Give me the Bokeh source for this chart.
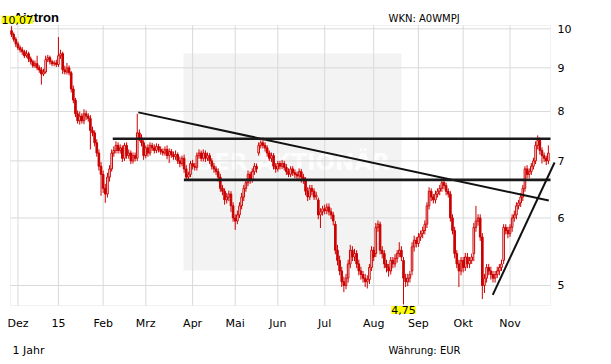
import numpy as np
from bokeh.plotting import figure
from bokeh.models import Range1d, FixedTicker, Label, BoxAnnotation, ColumnDataSource, PrintfTickFormatter
from bokeh.embed import file_html
from bokeh.resources import INLINE

# ---------------- data ----------------
month_pos = [3, 22, 43, 63, 85, 105, 125, 147, 170, 191, 212, 234]
month_labels = ["Dez", "15", "Feb", "Mrz", "Apr", "Mai", "Jun", "Jul", "Aug", "Sep", "Okt", "Nov"]
price_ticks = [5, 6, 7, 8, 9, 10]

open_ = [
    9.95, 9.85, 9.72, 9.60, 9.50, 9.45, 9.40, 9.30, 9.35, 9.22,
    9.15, 9.05, 9.10, 9.00, 8.95, 8.85, 8.90, 9.20, 9.25, 9.15,
    9.10, 9.12, 9.08, 9.30, 9.35, 8.95, 8.90, 9.00, 8.88, 8.50,
    8.25, 7.95, 7.80, 7.90, 7.80, 7.95, 7.90, 7.85, 7.60, 7.55,
    7.35, 7.15, 6.90, 6.75, 6.50, 6.40, 6.70, 6.85, 7.15, 7.20,
    7.30, 7.20, 7.25, 7.05, 7.30, 7.10, 7.15, 7.00, 7.10, 7.05,
    7.55, 7.45, 7.35, 7.10, 7.25, 7.15, 7.30, 7.25, 7.20, 7.28,
    7.22, 7.18, 7.15, 7.22, 7.10, 7.18, 7.12, 7.08, 7.12, 7.00,
    6.95, 7.05, 6.85, 6.70, 6.75, 6.95, 6.90, 6.88, 7.10, 7.15,
    7.05, 7.15, 7.05, 7.10, 7.00, 6.90, 6.85, 6.80, 6.70, 6.50,
    6.45, 6.30, 6.35, 6.40, 6.20, 6.00, 5.95, 6.05, 6.20, 6.35,
    6.50, 6.60, 6.75, 6.65, 6.80, 6.90, 7.15, 7.30, 7.35, 7.30,
    7.25, 7.15, 7.05, 7.10, 6.90, 6.85, 6.95, 6.90, 6.95, 6.88,
    6.80, 6.75, 6.85, 6.78, 6.75, 6.72, 6.80, 6.70, 6.65, 6.45,
    6.35, 6.50, 6.45, 6.35, 6.30, 6.05, 6.10, 6.15, 6.12, 6.18,
    6.10, 6.05, 5.90, 5.50, 5.35, 5.20, 5.05, 5.00, 5.10, 5.30,
    5.50, 5.40, 5.45, 5.30, 5.20, 5.15, 5.10, 5.05, 5.08, 5.25,
    5.50, 5.45, 5.85, 5.90, 5.50, 5.45, 5.30, 5.25, 5.20, 5.35,
    5.30, 5.38, 5.45, 5.50, 5.35, 5.10, 5.05, 5.10, 5.20, 5.55,
    5.65, 5.60, 5.70, 5.75, 5.80, 5.90, 6.20, 6.45, 6.35, 6.30,
    6.40, 6.45, 6.50, 6.60, 6.55, 6.45, 6.40, 6.00, 5.80, 5.45,
    5.30, 5.20, 5.35, 5.25, 5.40, 5.30, 5.35, 5.45, 5.85, 5.95,
    6.00, 5.70, 5.00, 5.10, 5.25, 5.20, 5.15, 5.10, 5.15, 5.20,
    5.25, 5.35, 5.85, 5.80, 5.75, 5.85, 6.00, 6.05, 6.20, 6.25,
    6.35, 6.50, 6.85, 6.75, 6.80, 6.90, 7.00, 7.30, 7.40, 7.20,
    7.10, 7.05, 7.00]

high = [
    10.07, 9.90, 9.78, 9.66, 9.56, 9.52, 9.45, 9.44, 9.40, 9.28,
    9.20, 9.18, 9.30, 9.06, 9.02, 8.98, 9.30, 9.32, 9.30, 9.20,
    9.18, 9.20, 9.78, 9.45, 9.40, 9.05, 9.12, 9.06, 8.92, 8.58,
    8.30, 8.02, 8.00, 7.96, 8.05, 8.02, 7.96, 7.92, 7.68, 7.60,
    7.42, 7.22, 6.98, 6.82, 6.58, 6.78, 6.92, 7.22, 7.28, 7.38,
    7.36, 7.32, 7.30, 7.35, 7.36, 7.22, 7.20, 7.16, 7.16, 7.95,
    7.62, 7.52, 7.40, 7.30, 7.32, 7.36, 7.35, 7.32, 7.34, 7.33,
    7.28, 7.24, 7.28, 7.30, 7.24, 7.23, 7.18, 7.20, 7.16, 7.08,
    7.10, 7.12, 6.92, 6.80, 7.00, 7.02, 6.96, 7.16, 7.22, 7.20,
    7.22, 7.20, 7.16, 7.15, 7.05, 6.96, 6.90, 6.86, 6.76, 6.56,
    6.50, 6.42, 6.46, 6.45, 6.26, 6.06, 6.12, 6.26, 6.42, 6.56,
    6.66, 6.82, 6.80, 6.86, 6.96, 6.95, 7.36, 7.40, 7.46, 7.36,
    7.30, 7.20, 7.16, 7.15, 6.96, 7.00, 7.00, 7.02, 7.00, 6.94,
    6.86, 6.90, 6.90, 6.84, 6.80, 6.86, 6.85, 6.76, 6.70, 6.52,
    6.56, 6.56, 6.50, 6.44, 6.34, 6.16, 6.20, 6.22, 6.24, 6.24,
    6.16, 6.10, 5.95, 5.58, 5.42, 5.26, 5.12, 5.16, 5.36, 5.58,
    5.56, 5.52, 5.50, 5.36, 5.26, 5.20, 5.16, 5.14, 5.30, 5.56,
    5.55, 5.92, 5.96, 5.94, 5.56, 5.50, 5.36, 5.30, 5.40, 5.40,
    5.44, 5.50, 5.62, 5.56, 5.40, 5.16, 5.16, 5.20, 5.62, 5.72,
    5.70, 5.76, 5.80, 5.86, 5.96, 6.26, 6.52, 6.50, 6.40, 6.46,
    6.50, 6.56, 6.68, 6.68, 6.60, 6.50, 6.45, 6.06, 5.86, 5.50,
    5.36, 5.40, 5.40, 5.46, 5.46, 5.40, 5.45, 5.92, 6.20, 6.06,
    6.06, 5.76, 5.16, 5.30, 5.30, 5.26, 5.20, 5.20, 5.26, 5.30,
    5.36, 5.90, 5.90, 5.86, 5.90, 6.06, 6.12, 6.26, 6.30, 6.42,
    6.56, 6.90, 6.92, 6.86, 6.96, 7.06, 7.38, 7.50, 7.46, 7.26,
    7.16, 7.10, 7.30]

low = [
    9.78, 9.66, 9.52, 9.44, 9.38, 9.32, 9.24, 9.25, 9.14, 9.08,
    9.00, 9.00, 8.94, 8.88, 8.60, 8.80, 8.86, 9.14, 9.08, 9.04,
    9.04, 9.02, 9.02, 9.22, 8.85, 8.84, 8.84, 8.82, 8.42, 8.18,
    7.88, 7.74, 7.72, 7.74, 7.73, 7.82, 7.78, 7.22, 7.48, 7.28,
    7.08, 6.82, 6.37, 6.42, 6.25, 6.34, 6.62, 6.80, 7.08, 7.14,
    7.14, 7.14, 6.98, 7.00, 7.04, 7.04, 6.94, 6.95, 6.99, 7.00,
    7.38, 7.28, 7.02, 7.05, 7.08, 7.10, 7.19, 7.14, 7.15, 7.16,
    7.12, 7.10, 7.10, 7.03, 6.96, 7.06, 7.02, 7.02, 6.94, 6.88,
    6.90, 6.78, 6.64, 6.64, 6.70, 6.84, 6.82, 6.82, 7.04, 6.99,
    6.99, 6.98, 7.00, 6.94, 6.84, 6.78, 6.74, 6.62, 6.44, 6.38,
    6.22, 6.24, 6.28, 6.10, 5.94, 5.81, 5.90, 6.00, 6.14, 6.28,
    6.44, 6.54, 6.58, 6.60, 6.74, 6.78, 7.10, 7.24, 7.24, 7.18,
    7.08, 7.00, 6.98, 6.84, 6.78, 6.80, 6.84, 6.85, 6.82, 6.74,
    6.70, 6.70, 6.72, 6.68, 6.66, 6.66, 6.60, 6.58, 6.38, 6.28,
    6.30, 6.38, 6.30, 6.30, 5.98, 5.84, 6.04, 6.06, 6.06, 6.04,
    5.98, 5.88, 5.44, 5.28, 5.14, 4.98, 4.91, 4.95, 5.04, 5.24,
    5.34, 5.34, 5.24, 5.14, 5.08, 5.04, 4.98, 4.96, 5.02, 5.20,
    5.34, 5.40, 5.78, 5.44, 5.38, 5.24, 5.18, 5.12, 5.15, 5.24,
    5.25, 5.32, 5.40, 5.34, 4.75, 4.98, 4.99, 5.04, 5.14, 5.48,
    5.54, 5.55, 5.64, 5.68, 5.74, 5.84, 6.14, 6.28, 6.24, 6.24,
    6.34, 6.38, 6.44, 6.48, 6.38, 6.34, 5.94, 5.74, 5.38, 5.24,
    4.98, 5.14, 5.18, 5.20, 5.24, 5.24, 5.30, 5.34, 5.78, 5.88,
    5.64, 4.82, 4.90, 5.04, 5.14, 5.08, 5.04, 5.04, 5.10, 5.14,
    5.20, 5.30, 5.74, 5.68, 5.70, 5.78, 5.94, 5.98, 6.14, 6.18,
    6.28, 6.44, 6.68, 6.68, 6.74, 6.84, 6.94, 7.22, 7.12, 6.95,
    6.98, 6.92, 6.94]

close = [
    9.85, 9.72, 9.60, 9.50, 9.45, 9.40, 9.30, 9.35, 9.22, 9.15,
    9.05, 9.10, 9.00, 8.95, 8.85, 8.90, 9.20, 9.25, 9.15, 9.10,
    9.12, 9.08, 9.30, 9.35, 8.95, 8.90, 9.00, 8.88, 8.50, 8.25,
    7.95, 7.80, 7.90, 7.80, 7.95, 7.90, 7.85, 7.60, 7.55, 7.35,
    7.15, 6.90, 6.75, 6.50, 6.40, 6.70, 6.85, 7.15, 7.20, 7.30,
    7.20, 7.25, 7.05, 7.30, 7.10, 7.15, 7.00, 7.10, 7.05, 7.55,
    7.45, 7.35, 7.10, 7.25, 7.15, 7.30, 7.25, 7.20, 7.28, 7.22,
    7.18, 7.15, 7.22, 7.10, 7.18, 7.12, 7.08, 7.12, 7.00, 6.95,
    7.05, 6.85, 6.70, 6.75, 6.95, 6.90, 6.88, 7.10, 7.15, 7.05,
    7.15, 7.05, 7.10, 7.00, 6.90, 6.85, 6.80, 6.70, 6.50, 6.45,
    6.30, 6.35, 6.40, 6.20, 6.00, 5.95, 6.05, 6.20, 6.35, 6.50,
    6.60, 6.75, 6.65, 6.80, 6.90, 6.85, 7.30, 7.35, 7.30, 7.25,
    7.15, 7.05, 7.10, 6.90, 6.85, 6.95, 6.90, 6.95, 6.88, 6.80,
    6.75, 6.85, 6.78, 6.75, 6.72, 6.80, 6.70, 6.65, 6.45, 6.35,
    6.50, 6.45, 6.35, 6.38, 6.05, 6.10, 6.15, 6.12, 6.18, 6.10,
    6.05, 5.95, 5.50, 5.35, 5.20, 5.05, 5.00, 5.10, 5.30, 5.50,
    5.40, 5.45, 5.30, 5.20, 5.15, 5.10, 5.05, 5.08, 5.25, 5.50,
    5.40, 5.85, 5.90, 5.50, 5.45, 5.30, 5.25, 5.20, 5.35, 5.30,
    5.38, 5.45, 5.50, 5.40, 5.10, 5.05, 5.10, 5.15, 5.55, 5.65,
    5.60, 5.70, 5.75, 5.80, 5.90, 6.20, 6.45, 6.35, 6.30, 6.40,
    6.45, 6.50, 6.60, 6.55, 6.45, 6.40, 6.00, 5.80, 5.45, 5.30,
    5.20, 5.35, 5.25, 5.40, 5.30, 5.35, 5.40, 5.85, 5.95, 6.00,
    5.70, 5.00, 5.10, 5.25, 5.20, 5.15, 5.10, 5.15, 5.20, 5.25,
    5.30, 5.85, 5.80, 5.75, 5.85, 6.00, 6.05, 6.20, 6.25, 6.35,
    6.50, 6.85, 6.75, 6.80, 6.90, 7.00, 7.30, 7.40, 7.20, 7.10,
    7.05, 7.00, 7.15]

# trend lines drawn on the chart (trading-day index, price)
down_x = [59.5, 252.2]
down_y = [7.98, 6.29]
resist_x = [47.5, 253.0]
resist_y = [7.43, 7.43]
support_x = [80.9, 253.0]
support_y = [6.65, 6.65]
up_x = [225.9, 254.9]
up_y = [4.875, 6.97]

title_text = "Aixtron"
wkn_text = "WKN: A0WMPJ"
period_text = "1 Jahr"
currency_text = "Währung: EUR"
watermark_text = "DER AKTIONÄR"

# ---------------- layout ----------------
FONT = "DejaVu Sans"
RED = "#cc0000"
GRID = "#d9d9d9"
W, H = 600, 362                 # canvas (= frame)
CL, CR, CT, CB = 10, 550, 25, 305  # chart area in canvas pixels
XA, XB = -0.5, 253.0            # index range of the chart area
YA, YB = 4.737, 10.09           # price range of the chart area
PXU = (XB - XA) / (CR - CL)
K = (CB - CT) / np.log(YB / YA)


def xd(px):
    return XA + (px - CL) * PXU


def yd(py):
    return float(YB * np.exp(-(py - CT) / K))


p = figure(frame_width=W, frame_height=H,
           x_range=Range1d(xd(0), xd(W)), y_range=Range1d(yd(H), yd(0)),
           y_axis_type="log", y_axis_location="right", output_backend="svg",
           toolbar_location=None, tools="", min_border=0)
p.background_fill_color = "white"
p.border_fill_color = "white"
p.outline_line_color = None
p.xgrid.visible = False
p.ygrid.visible = False

# axes, pinned to the chart-area edges
p.xaxis.fixed_location = yd(CB)
p.yaxis.fixed_location = xd(CR)
p.xaxis.ticker = FixedTicker(ticks=month_pos)
p.xaxis.major_label_overrides = {pos: lab for pos, lab in zip(month_pos, month_labels)}
p.yaxis.ticker = FixedTicker(ticks=price_ticks)
p.yaxis.formatter = PrintfTickFormatter(format="%d")
for ax in (p.xaxis[0], p.yaxis[0]):
    ax.axis_line_color = None
    ax.major_tick_line_color = None
    ax.minor_tick_line_color = None
    ax.major_tick_out = 0
    ax.major_tick_in = 0
    ax.minor_tick_out = 0
    ax.minor_tick_in = 0
    ax.major_label_text_font = FONT
    ax.major_label_text_font_size = "11px"
    ax.major_label_text_color = "black"
p.xaxis.major_label_standoff = 11
p.yaxis.major_label_standoff = 7
p.yaxis.major_label_text_align = "left"

# watermark box
p.add_layout(BoxAnnotation(left=xd(183), right=xd(401), bottom=yd(270), top=yd(53),
                           fill_color="#f3f3f3", fill_alpha=1.0, line_color=None, level="underlay"))
p.add_layout(Label(x=xd(292), y=yd(161), text=watermark_text, text_align="center",
                   text_baseline="middle", text_font=FONT, text_font_size="23px",
                   text_font_style="bold", text_color="#fdfdfd", level="underlay"))

# grid lines limited to the chart area
gx = np.array(month_pos, dtype=float)
p.segment(gx, [yd(CB)] * len(gx), gx, [yd(CT)] * len(gx), line_color=GRID, line_width=1)
gy = np.array(price_ticks, dtype=float)
p.segment([xd(CL)] * len(gy), gy, [xd(CR)] * len(gy), gy, line_color=GRID, line_width=1)
p.add_layout(BoxAnnotation(left=xd(CL), right=xd(CR), bottom=yd(CB), top=yd(CT),
                           fill_alpha=0, line_color="#cfcfcf", line_width=1, level="underlay"))

# candles
o = np.array(open_)
c = np.array(close)
h = np.array(high)
lo = np.array(low)
idx = np.arange(len(c))
up = c >= o
p.segment(idx, h, idx, lo, line_color=RED, line_width=1)
src_dn = ColumnDataSource(dict(x=idx[~up], top=o[~up], bottom=c[~up]))
src_up = ColumnDataSource(dict(x=idx[up], top=c[up], bottom=o[up]))
p.vbar(x="x", top="top", bottom="bottom", width=0.75, source=src_dn,
       fill_color=RED, line_color=RED, line_width=1)
p.vbar(x="x", top="top", bottom="bottom", width=0.75, source=src_up,
       fill_color="white", line_color=RED, line_width=1)

# trend lines
p.line(down_x, down_y, line_color="#111111", line_width=2)
p.line(resist_x, resist_y, line_color="#1a1a1a", line_width=2.6)
p.line(support_x, support_y, line_color="#1a1a1a", line_width=2.6)
p.line(up_x, up_y, line_color="#111111", line_width=2)

# texts
p.add_layout(Label(x=xd(13), y=yd(17), text=title_text, text_font="Liberation Sans",
                   text_font_size="13px", text_font_style="bold", text_baseline="alphabetic",
                   text_align="left", text_color="black"))
p.add_layout(Label(x=xd(388), y=yd(18.3), text=wkn_text, text_font=FONT,
                   text_font_size="10px", text_baseline="alphabetic", text_align="left",
                   text_color="black"))
p.add_layout(Label(x=xd(12), y=yd(350), text=period_text, text_font=FONT,
                   text_font_size="11px", text_baseline="alphabetic", text_align="left",
                   text_color="black"))
p.add_layout(Label(x=xd(388), y=yd(350), text=currency_text, text_font=FONT,
                   text_font_size="10px", text_baseline="alphabetic", text_align="left",
                   text_color="black"))

# high / low markers
hi_val = float(h.max())
lo_i = int(np.argmin(lo))
lo_val = float(lo.min())
p.add_layout(Label(x=xd(1), y=yd(19.3), text=f"{hi_val:.2f}".replace(".", ","),
                   text_font=FONT, text_font_size="11px", text_baseline="middle",
                   text_align="left", text_color="black",
                   background_fill_color="#ffff00", background_fill_alpha=1.0))
p.add_layout(Label(x=float(lo_i), y=yd(305.5), text=f"{lo_val:.2f}".replace(".", ","),
                   text_font=FONT, text_font_size="11px", text_baseline="top",
                   text_align="center", text_color="black",
                   background_fill_color="#ffff00", background_fill_alpha=1.0))

open("out.html", "w").write(file_html(p, INLINE))
